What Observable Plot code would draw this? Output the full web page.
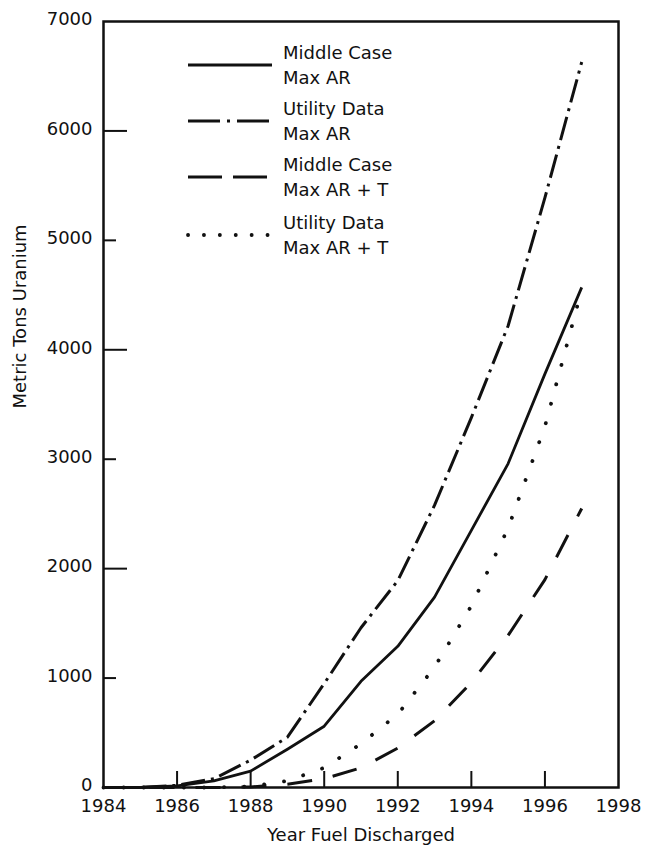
<!DOCTYPE html>
<html><head><meta charset="utf-8">
<script src="https://cdn.jsdelivr.net/npm/d3@7"></script>
<script src="https://cdn.jsdelivr.net/npm/@observablehq/plot@0.6"></script>
<style>
html,body{margin:0;padding:0;background:#fff;}
#chart{position:relative;width:652px;height:850px;}
</style></head><body><div id="chart"></div>
<script>
// ---- data ----
const years = [1984,1985,1986,1987,1988,1989,1990,1991,1992,1993,1994,1995,1996,1997];
const middleCaseMaxAR   = [0,0,15,60,150,350,560,970,1290,1740,2350,2960,3780,4570];
const utilityDataMaxAR  = [0,0,20,80,250,460,950,1460,1890,2580,3380,4220,5390,6630];
const middleCaseMaxART  = [0,0,0,0,5,30,80,180,360,610,960,1390,1900,2550];
const utilityDataMaxART = [0,0,0,0,10,60,180,400,670,1100,1660,2370,3300,4550];
const seriesLine1 = ["Middle Case","Utility Data","Middle Case","Utility Data"];
const seriesLine2 = ["Max AR","Max AR","Max AR + T","Max AR + T"];
const xTickLabels = [1984,1986,1988,1990,1992,1994,1996,1998];
const yTickLabels = [0,1000,2000,3000,4000,5000,6000,7000];
const xTitle = "Year Fuel Discharged";
const yTitle = "Metric Tons Uranium";

// ---- layout / styles ----
const W = 652, H = 850, mT = 21, mL = 103, mR = 34, mB = 63;
const innerW = W - mL - mR, innerH = H - mT - mB;
const FONT = "'DejaVu Sans', sans-serif";
const seriesValues = [middleCaseMaxAR, utilityDataMaxAR, middleCaseMaxART, utilityDataMaxART];
const lineStyles = [
  {dash: null, cap: "butt", width: 2.8, legendDash: null},
  {dash: "24,6,3,6", cap: "butt", width: 3, legendDash: "32,7,3,7"},
  {dash: "25,21", cap: "butt", width: 3, legendDash: "34,11"},
  {dash: "0.1,20", cap: "round", width: 3.8, legendDash: "0.1,15.8"}
];

const rows = [];
seriesValues.forEach((vals, i) => years.forEach((yr, j) =>
  rows.push({series: i, year: yr, value: vals[j]})));

const xInner = xTickLabels.slice(1, -1);
const yLong = yTickLabels.filter(v => v > 0 && v < 7000 && (v / 1000) % 2 === 0);
const yShort = yTickLabels.filter(v => v > 0 && v < 7000 && (v / 1000) % 2 === 1);

const lineMarks = seriesValues.map((_, i) => Plot.line(rows.filter(r => r.series === i), {
  x: "year", y: "value", stroke: "#111", strokeWidth: lineStyles[i].width,
  strokeDasharray: lineStyles[i].dash, strokeLinecap: lineStyles[i].cap, strokeLinejoin: "round"
}));

const svg = Plot.plot({
  width: W, height: H,
  marginTop: mT, marginLeft: mL, marginRight: mR, marginBottom: mB,
  style: {fontFamily: FONT, fontSize: "18px", color: "#111", background: "white"},
  x: {domain: [1984, 1998]},
  y: {domain: [0, 7000]},
  marks: [
    Plot.axisX({ticks: xTickLabels, tickFormat: d => String(d), tickSize: 0, tickPadding: 12, label: null, fontSize: 18}),
    Plot.axisY({ticks: yTickLabels, tickFormat: d => String(d), tickSize: 0, tickPadding: 11, dy: -2, label: null, fontSize: 18}),
    Plot.tickX(xInner, {x: d => d, insetTop: innerH - 16, stroke: "#111", strokeWidth: 2}),
    Plot.tickY(yLong, {y: d => d, insetRight: innerW - 24, stroke: "#111", strokeWidth: 2}),
    Plot.tickY(yShort, {y: d => d, insetRight: innerW - 13, stroke: "#111", strokeWidth: 2}),
    ...lineMarks,
    Plot.frame({stroke: "#111", strokeWidth: 2.5}),
    Plot.text([xTitle], {text: d => d, frameAnchor: "bottom", dy: 53, fontSize: 18, fill: "#111"}),
    Plot.text([yTitle], {text: d => d, frameAnchor: "left", rotate: -90, dx: -83, dy: 4, fontSize: 18, fill: "#111"})
  ]
});

// ---- legend inside the frame (upper left) ----
const legendRowY = [65, 121, 177, 235];
const lg = d3.select(svg).append("g")
  .attr("font-family", FONT).attr("font-size", 18).attr("fill", "#111").attr("text-anchor", "start");
lineStyles.forEach((s, i) => {
  const cy = legendRowY[i];
  lg.append("line").attr("x1", 188).attr("x2", 272).attr("y1", cy).attr("y2", cy)
    .attr("stroke", "#111").attr("stroke-width", s.width)
    .attr("stroke-dasharray", s.legendDash).attr("stroke-linecap", s.cap);
  lg.append("text").attr("x", 283).attr("y", cy - 12.5).attr("dominant-baseline", "central")
    .attr("text-anchor", "start").text(seriesLine1[i]);
  lg.append("text").attr("x", 283).attr("y", cy + 12.5).attr("dominant-baseline", "central")
    .attr("text-anchor", "start").text(seriesLine2[i]);
});

document.getElementById("chart").appendChild(svg);
</script>
</body></html>
